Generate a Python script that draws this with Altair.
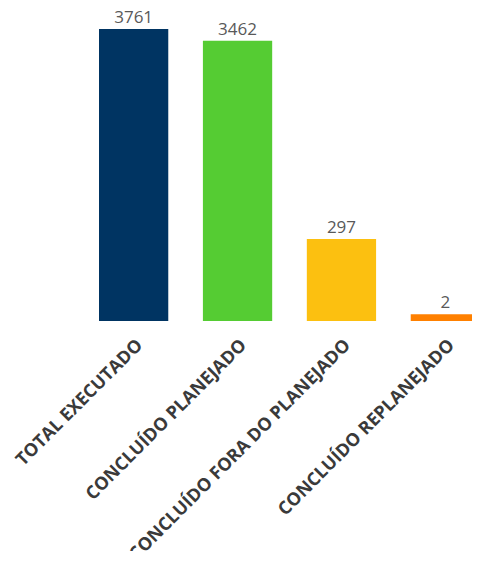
import altair as alt
import pandas as pd

categories = ["TOTAL EXECUTADO", "CONCLUÍDO PLANEJADO", "CONCLUÍDO FORA DO PLANEJADO", "CONCLUÍDO REPLANEJADO"]
values = [3761, 3462, 297, 2]
colors = ["#003462", "#55CC33", "#FCC010", "#FF8000"]

df = pd.DataFrame({"cat": categories, "val": values})

x = alt.X("cat:N", sort=categories, title=None,
          scale=alt.Scale(paddingInner=1/3, paddingOuter=0),
          axis=alt.Axis(labelAngle=-45, labelFont="Open Sans", labelFontWeight="bold",
                        labelFontSize=18, labelColor="#3a3a3a", labelPadding=15,
                        domain=False, ticks=False, labelLimit=400, labelOverlap=False))
yscale = alt.Scale(type="sqrt", domain=[0, 4212], nice=False, zero=True)

bars = alt.Chart(df).mark_bar().encode(
    x=x,
    y=alt.Y("val:Q", scale=yscale, axis=None),
    color=alt.Color("cat:N", sort=categories,
                    scale=alt.Scale(domain=categories, range=colors), legend=None),
)

text = alt.Chart(df).mark_text(baseline="alphabetic", dy=-6, font="Open Sans",
                               fontSize=17, color="#595959").encode(
    x=alt.X("cat:N", sort=categories),
    y=alt.Y("val:Q", scale=yscale),
    text=alt.Text("val:Q"),
)

chart = (bars + text).properties(
    width=381, height=309,
    autosize=alt.AutoSizeParams(type="none"),
    padding={"left": 91, "top": 4, "right": -8, "bottom": 230},
).configure_view(stroke=None).configure_axis(grid=False)

chart.save("out.html", embed_options={"renderer": "svg", "actions": False})
